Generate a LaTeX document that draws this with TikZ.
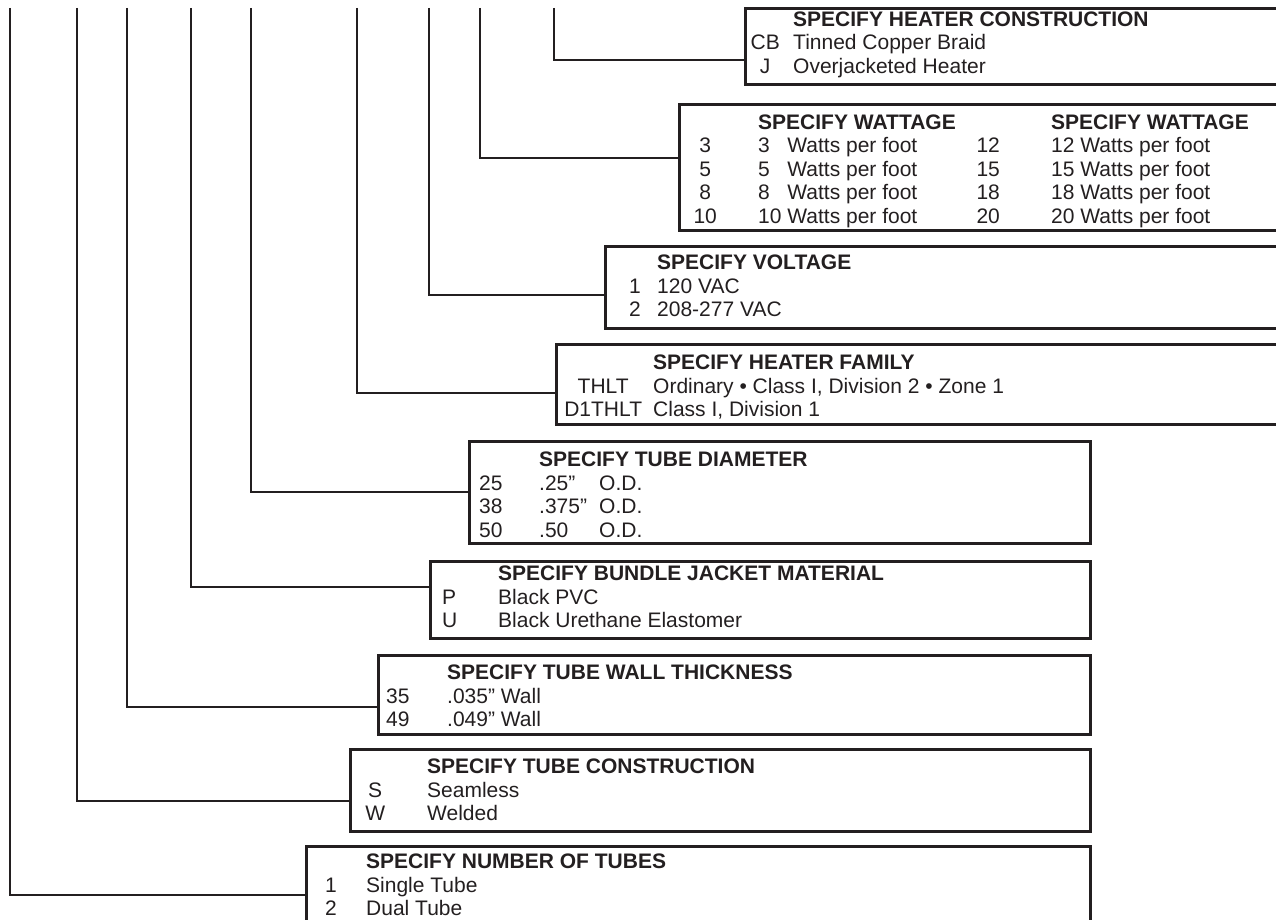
\documentclass[tikz,border=0pt]{standalone}
\usepackage{fontspec}
\setmainfont{Liberation Sans}
\usepackage{array}
\definecolor{ink}{RGB}{35,31,32}
\tikzset{
  panel/.style = {draw=ink, line width=2.6pt, anchor=north west, inner sep=0pt},
  opts/.style  = {anchor=base west, inner sep=0pt, text=ink, font=\fontsize{21}{23.5}\selectfont},
  lead/.style  = {draw=ink, line width=2pt},
}

\begin{document}
\begin{tikzpicture}[x=1pt,y=-1pt]
  \useasboundingbox (0,0) rectangle (1276,920);
  \clip (0,0) rectangle (1276,920);

  % option boxes, top to bottom
  \node[panel, minimum width=560pt, minimum height=76pt]  (heat) at (744,7)   {};
  \node[panel, minimum width=620pt, minimum height=126pt] (watt) at (678,103) {};
  \node[panel, minimum width=700pt, minimum height=82pt]  (volt) at (604,245) {};
  \node[panel, minimum width=750pt, minimum height=80pt]  (fam)  at (555,343) {};
  \node[panel, minimum width=621pt, minimum height=102pt] (dia)  at (468,440) {};
  \node[panel, minimum width=660pt, minimum height=77pt]  (jack) at (429,560) {};
  \node[panel, minimum width=712pt, minimum height=79pt]  (wall) at (377,654) {};
  \node[panel, minimum width=740pt, minimum height=82pt]  (cons) at (349,748) {};
  \node[panel, minimum width=784pt, minimum height=120pt] (num)  at (305,845) {};

  % box contents
  \node[opts] (heatT) at (751,26.5) {\begin{tabular}[t]{@{}w{c}{28pt}@{\hspace{14pt}}l@{}}
    & \textbf{SPECIFY HEATER CONSTRUCTION}\\
    CB & Tinned Copper Braid\\
    J  & Overjacketed Heater
  \end{tabular}};
  \node[opts] (wattT) at (690,129.5) {\begin{tabular}[t]{@{}w{c}{30pt}@{\hspace{38pt}}w{l}{215pt}@{}w{c}{30pt}@{\hspace{48pt}}l@{}}
    & \textbf{SPECIFY WATTAGE} & & \textbf{SPECIFY WATTAGE}\\
    3  & 3\phantom{0} Watts per foot & 12 & 12 Watts per foot\\
    5  & 5\phantom{0} Watts per foot & 15 & 15 Watts per foot\\
    8  & 8\phantom{0} Watts per foot & 18 & 18 Watts per foot\\
    10 & 10 Watts per foot & 20 & 20 Watts per foot
  \end{tabular}};
  \node[opts] (voltT) at (629,269.5) {\begin{tabular}[t]{@{}w{l}{28pt}@{}l@{}}
    & \textbf{SPECIFY VOLTAGE}\\
    1 & 120 VAC\\
    2 & 208-277 VAC
  \end{tabular}};
  \node[opts] (famT) at (563,369.5) {\begin{tabular}[t]{@{}w{c}{80pt}@{\hspace{10pt}}l@{}}
    & \textbf{SPECIFY HEATER FAMILY}\\
    THLT   & Ordinary • Class I, Division 2 • Zone 1\\
    D1THLT & Class I, Division 1
  \end{tabular}};
  \node[opts] (diaT) at (479,466.5) {\begin{tabular}[t]{@{}w{l}{60pt}@{}w{l}{60pt}@{}l@{}}
    & \multicolumn{2}{@{}l@{}}{\textbf{SPECIFY TUBE DIAMETER}}\\
    25 & .25”  & O.D.\\
    38 & .375” & O.D.\\
    50 & .50   & O.D.
  \end{tabular}};
  \node[opts] (jackT) at (442,580.5) {\begin{tabular}[t]{@{}w{l}{56pt}@{}l@{}}
    & \textbf{SPECIFY BUNDLE JACKET MATERIAL}\\
    P & Black PVC\\
    U & Black Urethane Elastomer
  \end{tabular}};
  \node[opts] (wallT) at (386,679.5) {\begin{tabular}[t]{@{}w{l}{61pt}@{}l@{}}
    & \textbf{SPECIFY TUBE WALL THICKNESS}\\
    35 & .035” Wall\\
    49 & .049” Wall
  \end{tabular}};
  \node[opts] (consT) at (365,773.5) {\begin{tabular}[t]{@{}w{c}{20pt}@{\hspace{42pt}}l@{}}
    & \textbf{SPECIFY TUBE CONSTRUCTION}\\
    S & Seamless\\
    W & Welded
  \end{tabular}};
  \node[opts] (numT) at (325,868.5) {\begin{tabular}[t]{@{}w{l}{41pt}@{}l@{}}
    & \textbf{SPECIFY NUMBER OF TUBES}\\
    1 & Single Tube\\
    2 & Dual Tube
  \end{tabular}};

  % leader lines from the part number
  \coordinate (tNum)  at (10,8);
  \coordinate (tCons) at (77,8);
  \coordinate (tWall) at (127,8);
  \coordinate (tJack) at (191,8);
  \coordinate (tDia)  at (251,8);
  \coordinate (tFam)  at (357,8);
  \coordinate (tVolt) at (429,8);
  \coordinate (tWatt) at (480,8);
  \coordinate (tHeat) at (554,8);
  \draw[lead] (tHeat) |- ([yshift=-53pt]heat.north west);
  \draw[lead] (tWatt) |- ([yshift=-55pt]watt.north west);
  \draw[lead] (tVolt) |- ([yshift=-50pt]volt.north west);
  \draw[lead] (tFam)  |- ([yshift=-50pt]fam.north west);
  \draw[lead] (tDia)  |- ([yshift=-52pt]dia.north west);
  \draw[lead] (tJack) |- ([yshift=-27pt]jack.north west);
  \draw[lead] (tWall) |- ([yshift=-53pt]wall.north west);
  \draw[lead] (tCons) |- ([yshift=-53pt]cons.north west);
  \draw[lead] (tNum)  |- ([yshift=-50pt]num.north west);
\end{tikzpicture}
\end{document}
